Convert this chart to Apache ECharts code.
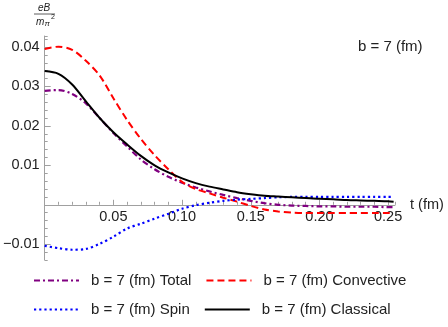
<!DOCTYPE html>
<html>
<head>
<meta charset="utf-8">
<script src="https://cdn.jsdelivr.net/npm/echarts@6/dist/echarts.min.js"></script>
<style>
  html, body { margin: 0; padding: 0; background: #fff; }
  #chart { width: 448px; height: 327px; }
</style>
</head>
<body>
<div id="chart"></div>
<script>
// time in fm
const tValues = [0, 0.01, 0.02, 0.03, 0.04, 0.05, 0.06, 0.07, 0.08, 0.09, 0.10, 0.11, 0.12,
  0.13, 0.14, 0.15, 0.16, 0.17, 0.18, 0.19, 0.20, 0.21, 0.22, 0.23, 0.24, 0.25, 0.254];

const totalValues = [0.0289, 0.0291, 0.0281, 0.0257, 0.0220, 0.0182, 0.0148, 0.0115, 0.0090,
  0.0071, 0.0056, 0.0044, 0.0034, 0.0025, 0.0017, 0.0010, 0.0004, 0.0000, -0.0002, -0.0003,
  -0.0004, -0.0004, -0.0005, -0.0005, -0.0005, -0.0006, -0.0006];

const convectiveValues = [0.0395, 0.0401, 0.0393, 0.0365, 0.0328, 0.0270, 0.0215, 0.0167, 0.0126,
  0.0090, 0.0058, 0.0040, 0.0029, 0.0018, 0.0008, -0.0003, -0.0012, -0.0017, -0.0020, -0.0021,
  -0.0021, -0.0021, -0.0021, -0.0021, -0.0021, -0.0021, -0.0021];

const spinValues = [-0.0104, -0.0110, -0.0114, -0.0112, -0.0099, -0.0081, -0.0060, -0.0048, -0.0035,
  -0.0023, -0.0010, -0.0001, 0.0005, 0.0010, 0.0013, 0.0015, 0.0017, 0.0019, 0.0020, 0.0020,
  0.0020, 0.0020, 0.0020, 0.0020, 0.0020, 0.0020, 0.0020];

const classicalValues = [0.0339, 0.0332, 0.0305, 0.0262, 0.0220, 0.0184, 0.0153, 0.0124, 0.0100,
  0.0082, 0.0067, 0.0055, 0.0046, 0.0039, 0.0032, 0.0027, 0.0023, 0.0021, 0.0019, 0.0017,
  0.0015, 0.0014, 0.0012, 0.0011, 0.0010, 0.0009, 0.0008];

const yMajorTicks = [-0.01, 0.01, 0.02, 0.03, 0.04];
const xMajorTicks = [0.05, 0.10, 0.15, 0.20, 0.25];

const names = ['b = 7 (fm) Total', 'b = 7 (fm) Convective', 'b = 7 (fm) Spin', 'b = 7 (fm) Classical'];

const pairs = vals => tValues.map((t, i) => [t, vals[i]]);
const isMajor = (v, step) => v !== 0 && Math.abs(v / step - Math.round(v / step)) < 1e-6;

const font = 'Liberation Sans, Arial, sans-serif';
const axisGray = '#a0a0a0';

// plot box and y range, used to put the t axis on y = 0
const gridTop = 36, gridBottom = 67, chartH = 327;
const yMin = -0.014, yMax = 0.0428;
const plotH = chartH - gridTop - gridBottom;
const zeroOffset = -plotH * (0 - yMin) / (yMax - yMin);

const chart = echarts.init(document.getElementById('chart'));

const lineSeries = (name, vals, color, type, width) => ({
  name,
  type: 'line',
  data: pairs(vals),
  smooth: 0.3,
  symbol: 'none',
  lineStyle: { color, width, type },
  itemStyle: { color }
});

const legendBase = {
  left: 33, padding: 0,
  itemWidth: 45, itemHeight: 14, itemGap: 14,
  itemStyle: { opacity: 0 },
  textStyle: { fontSize: 15, color: '#222', padding: [0, 0, 0, 7], fontFamily: font }
};

chart.setOption({
  animation: false,
  backgroundColor: '#fff',
  textStyle: { fontFamily: font },
  grid: { left: 43, right: 53, top: gridTop, bottom: gridBottom },
  legend: [
    Object.assign({ top: 273, data: [names[0], names[1]] }, legendBase),
    Object.assign({ top: 302, data: [names[2], names[3]] }, legendBase)
  ],
  xAxis: [
    {
      type: 'value',
      position: 'bottom',
      offset: zeroOffset,
      min: 0,
      max: 0.255,
      interval: 0.01,
      name: 't (fm)',
      nameLocation: 'end',
      nameGap: 15,
      nameTextStyle: { fontSize: 14.5, color: '#222', fontFamily: font },
      axisLine: { onZero: false, lineStyle: { color: axisGray, width: 1 } },
      axisTick: { inside: true, length: 3, lineStyle: { color: axisGray } },
      axisLabel: {
        margin: 5,
        fontSize: 14.5,
        color: '#222',
        fontFamily: font,
        formatter: v => (isMajor(v, 0.05) ? v.toFixed(2) : '')
      },
      splitLine: { show: false }
    },
    {
      type: 'value',
      position: 'bottom',
      offset: zeroOffset,
      min: 0,
      max: 0.255,
      axisLine: { show: false, onZero: false },
      axisTick: { inside: true, length: 5, customValues: xMajorTicks, lineStyle: { color: axisGray } },
      axisLabel: { show: false },
      splitLine: { show: false }
    }
  ],
  yAxis: [
    {
      type: 'value',
      min: yMin,
      max: yMax,
      interval: 0.002,
      axisLine: { show: true, onZero: false, lineStyle: { color: axisGray, width: 1 } },
      axisTick: { show: true, inside: true, length: 3, lineStyle: { color: axisGray } },
      axisLabel: {
        margin: 5,
        fontSize: 14.5,
        color: '#222',
        fontFamily: font,
        formatter: v => {
          if (!isMajor(v, 0.01)) return '';
          const s = Math.abs(v).toFixed(2);
          return v < 0 ? '\u2212' + s : s;
        }
      },
      splitLine: { show: false }
    },
    {
      type: 'value',
      position: 'left',
      min: yMin,
      max: yMax,
      axisLine: { show: false },
      axisTick: { show: true, inside: true, length: 6, customValues: yMajorTicks, lineStyle: { color: axisGray } },
      axisLabel: { show: false },
      splitLine: { show: false }
    }
  ],
  graphic: [
    {
      type: 'text', left: 358, top: 39,
      style: { text: 'b = 7 (fm)', fill: '#222', font: '15px ' + font }
    },
    {
      type: 'text', x: 44, y: 3,
      style: { text: 'eB', fill: '#222', font: 'italic 10px ' + font, textAlign: 'center' }
    },
    {
      type: 'line',
      shape: { x1: 34, y1: 14, x2: 55, y2: 14 },
      style: { stroke: '#333', lineWidth: 0.8 }
    },
    {
      type: 'text', x: 36, y: 17,
      style: { text: 'm', fill: '#222', font: 'italic 10px ' + font }
    },
    {
      type: 'text', x: 44.5, y: 20,
      style: { text: '\u03c0', fill: '#222', font: 'italic 8px ' + font }
    },
    {
      type: 'text', x: 51, y: 14,
      style: { text: '2', fill: '#222', font: '7px ' + font }
    }
  ],
  series: [
    lineSeries(names[0], totalValues, '#800080', [6, 3, 2, 3], 2.2),
    lineSeries(names[1], convectiveValues, '#ff0000', [7, 4], 2),
    lineSeries(names[2], spinValues, '#0000ff', [2.2, 3], 2.2),
    lineSeries(names[3], classicalValues, '#000000', 'solid', 2)
  ]
});
</script>
</body>
</html>
